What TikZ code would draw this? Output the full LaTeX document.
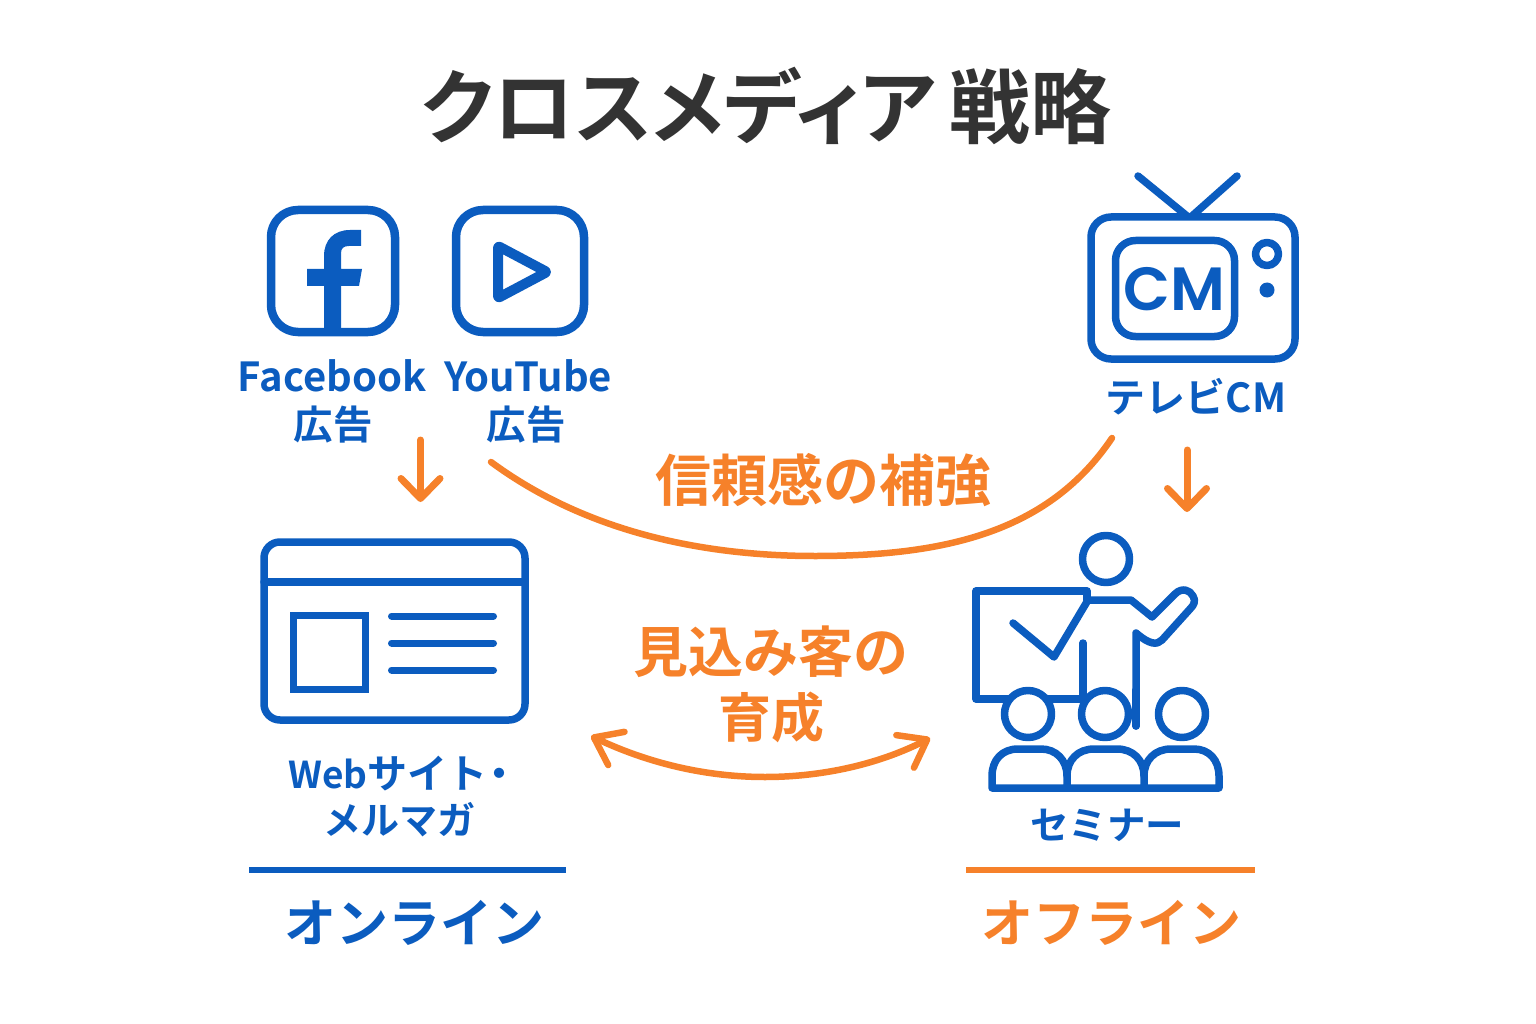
\documentclass[tikz,border=0pt]{standalone}
\usepackage{fontspec}
\usetikzlibrary{arrows.meta,bending}
\setmainfont{Noto Sans CJK JP}[BoldFont=* Bold]
\newfontfamily\cmfont{Poppins SemiBold}
\definecolor{bluec}{HTML}{0B5CBF}
\definecolor{orangec}{HTML}{F6812A}
\definecolor{titlec}{HTML}{333333}
\tikzset{
  lab/.style={inner sep=0pt,font=\fontsize{#1}{#1}\selectfont\bfseries,align=center},
  bluelab/.style={lab=#1,text=bluec},
  orangelab/.style={lab=#1,text=orangec},
  icon/.style={draw=bluec,line width=#1,line join=round,line cap=round},
  chev/.style={-{Straight Barb[length=20pt,width=39pt,line width=7pt,round]},draw=orangec,line width=7pt,line cap=round},
  rule/.style={line width=6.5pt},
}
\begin{document}
\begin{tikzpicture}[x=1pt,y=-1pt]
\useasboundingbox (0,0) rectangle (1536,1024);
\node[lab=81,text=titlec] (title) at (766,106) {\addfontfeature{RawFeature=+palt}クロスメディア\hspace{14pt}\addfontfeature{RawFeature=-palt}戦略};
% Facebook
\draw[icon=8.5pt,rounded corners=27pt] (271,210) rectangle (395,332);
\fill[bluec] (324,330) -- (324,286) -- (307,286) -- (307,269) -- (324,269) -- (324,256)
  .. controls (324,240) and (334,230) .. (350,230) -- (361,230) -- (361,246) -- (349,246)
  .. controls (344,246) and (341,248) .. (341,253) -- (341,269) -- (362,269) -- (359,286) -- (341,286) -- (341,330) -- cycle;
% YouTube
\draw[icon=8.5pt,rounded corners=27pt] (456,210) rectangle (584,332);
\draw[icon=10pt,rounded corners=2pt] (498,246) -- (547,272) -- (498,298) -- cycle;
% TV
\draw[icon=7.5pt] (1138,176) -- (1187,216) (1237,176) -- (1192,216);
\draw[icon=7.5pt,rounded corners=20pt] (1091,217) rectangle (1295,359);
\draw[icon=7.5pt,rounded corners=20pt] (1115.5,240.5) rectangle (1234.5,336.5);
\node[inner sep=0pt,text=bluec,font=\cmfont\fontsize{61}{61}\selectfont] (cm) at (1174,289) {CM};
\draw[icon=7.5pt] (1267,254) circle (11.5pt);
\fill[bluec] (1267,290) circle (7.5pt);
% Labels top
\node[bluelab=40] (fb) at (332,376) {Facebook};
\node[bluelab=39.5] (fbad) at (333,425) {広告};
\node[bluelab=40] (yt) at (528,376) {YouTube};
\node[bluelab=39.5] (ytad) at (526,425) {広告};
\node[bluelab=40] (tvl) at (1196,397) {テレビCM};
% Web window
\draw[icon=7.5pt,rounded corners=16pt] (264,542) rectangle (525,720);
\draw[icon=7.5pt] (264,582) -- (525,582);
\draw[icon=7.5pt,line join=miter] (293.5,615.5) rectangle (365.5,689.5);
\draw[icon=7pt] (391.5,616) -- (493.5,616) (391.5,643) -- (493.5,643) (391.5,670) -- (493.5,670);
% Seminar
\draw[icon=7.5pt] (1106,559) circle (23.5pt);
\draw[icon=7.5pt] (1087,600) -- (1087,591) -- (976,591) -- (976,699) -- (1083,699);
\draw[icon=7.5pt] (1013,623) -- (1054,657) -- (1088,600) -- (1131,600) -- (1152,617) -- (1175,594)
  .. controls (1182,587) and (1190,590) .. (1193,596) .. controls (1196,601) and (1194,605) .. (1190,609)
  -- (1162,640) .. controls (1157,645) and (1150,645) .. (1136,633) -- (1136,726);
\draw[icon=7.5pt] (1083,643) -- (1083,695);
\foreach \cx/\nm in {1028/a,1105/b,1182/c} \draw[icon=7.5pt,fill=white] (\cx,714) circle (23.5pt);
\draw[icon=7.5pt] (1136,690) -- (1136,726);
\draw[icon=7.5pt] (1067,788) -- (992,788) -- (992,776) .. controls (992,760) and (1002,749) .. (1018,749)
  -- (1041,749) .. controls (1056,749) and (1067,760) .. (1067,776) -- (1067,788);
\draw[icon=7.5pt] (1144,788) -- (1067,788) (1067,776) .. controls (1067,760) and (1078,749) .. (1094,749)
  -- (1117,749) .. controls (1133,749) and (1144,760) .. (1144,776) -- (1144,788);
\draw[icon=7.5pt] (1144,776) .. controls (1144,760) and (1155,749) .. (1171,749)
  -- (1194,749) .. controls (1209,749) and (1219,760) .. (1219,776) -- (1219,788) -- (1144,788);
% Bottom labels
\node[bluelab=40] (web1) at (399,774) {{\fontsize{37}{37}\selectfont Web}サイト\hspace{2pt}{\addfontfeature{RawFeature=+palt}・}};
\node[bluelab=38] (web2) at (399,820) {メルマガ};
\node[bluelab=38.5] (sem) at (1107,825) {セミナー};
\coordinate (ruleonl) at (249,870);
\coordinate (ruleonr) at (566,870);
\coordinate (ruleofl) at (966,870);
\coordinate (ruleofr) at (1255,870);
\draw[rule,draw=bluec] (ruleonl) -- (ruleonr);
\draw[rule,draw=orangec] (ruleofl) -- (ruleofr);
\node[bluelab=52] (online) at (414,923) {オンライン};
\node[orangelab=52] (offline) at (1111,923) {オフライン};
% Orange labels
\node[orangelab=56] (trust) at (823,480) {信頼感の補強};
\node[orangelab=55] (nur1) at (771,652) {見込み客の};
\node[orangelab=53] (nur2) at (771,717) {育成};
% Connectors
\coordinate (a1s) at (420.5,440);
\coordinate (a1e) at (420.5,502);
\coordinate (a2s) at (1187,450);
\coordinate (a2e) at (1187,512);
\coordinate (cs) at (491,462);
\coordinate (ce) at (1112,438);
\coordinate (ds) at (591,736);
\coordinate (de) at (930,738);
\draw[chev] (a1s) -- (a1e);
\draw[chev] (a2s) -- (a2e);
\draw[draw=orangec,line width=6.5pt,line cap=round] (cs) .. controls (590,535) and (710,556) .. (815,556) .. controls (950,556) and (1050,530) .. (ce);
\draw[{Straight Barb[length=25pt,width=37pt,line width=6.5pt,round,flex]}-{Straight Barb[length=25pt,width=37pt,line width=6.5pt,round,flex]},draw=orangec,line width=6.5pt,line cap=round] (ds) .. controls (650,765) and (710,777) .. (765,777) .. controls (820,777) and (880,765) .. (de);
\end{tikzpicture}
\end{document}
